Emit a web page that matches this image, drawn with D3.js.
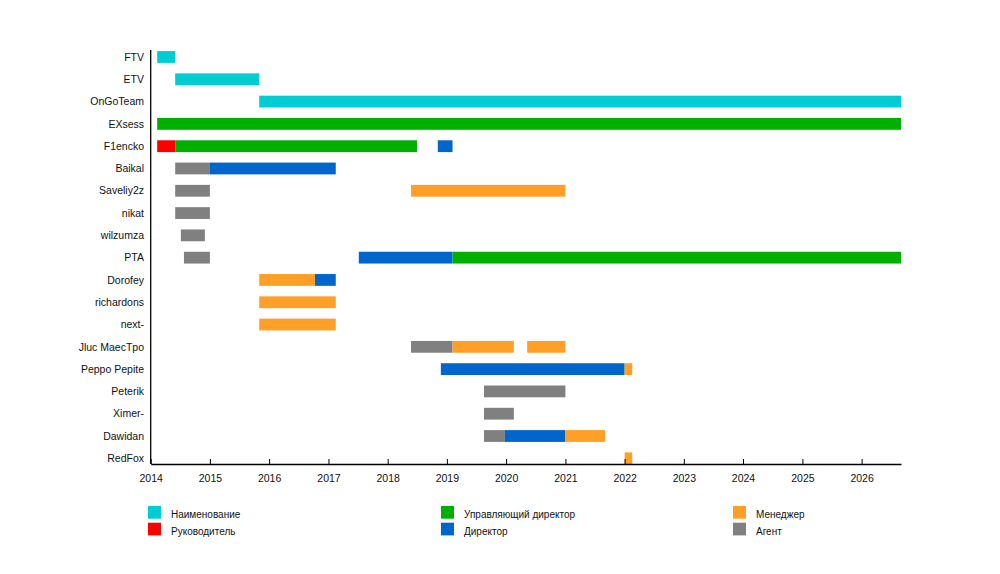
<!DOCTYPE html>
<html>
<head>
<meta charset="utf-8">
<script src="https://cdn.jsdelivr.net/npm/d3@7"></script>
<style>
  body { margin: 0; background: #fff; }
  text { font-family: "Liberation Sans", Arial, sans-serif; fill: #111; }
</style>
</head>
<body>
<svg id="chart" width="1000" height="574"></svg>
<script>
// rows, top to bottom
const members = ["FTV", "ETV", "OnGoTeam", "EXsess", "F1encko", "Baikal", "Saveliy2z", "nikat",
  "wilzumza", "PTA", "Dorofey", "richardons", "next-", "Jluc MaecTpo", "Peppo Pepite",
  "Peterik", "Ximer-", "Dawidan", "RedFox"];

// roles and their colours (legend order: column by column)
const roles = ["Наименование", "Руководитель", "Управляющий директор", "Директор", "Менеджер", "Агент"];
const roleKeys = ["name", "lead", "md", "dir", "mgr", "agent"];
const roleColors = ["#00ccd4", "#ff0000", "#00b000", "#0066cc", "#ff9f28", "#808080"];

// periods: [member, role, from, till]
const periods = [
  ["FTV", "name", "2014-02-10", "2014-06-01"],
  ["ETV", "name", "2014-06-01", "2015-11-01"],
  ["OnGoTeam", "name", "2015-11-01", "2026-09-01"],
  ["EXsess", "md", "2014-02-10", "2026-09-01"],
  ["F1encko", "lead", "2014-02-10", "2014-06-01"],
  ["F1encko", "md", "2014-06-01", "2018-07-01"],
  ["F1encko", "dir", "2018-11-06", "2019-02-05"],
  ["Baikal", "agent", "2014-06-01", "2015-01-01"],
  ["Baikal", "dir", "2015-01-01", "2017-02-15"],
  ["Saveliy2z", "agent", "2014-06-01", "2015-01-01"],
  ["Saveliy2z", "mgr", "2018-05-25", "2021-01-01"],
  ["nikat", "agent", "2014-06-01", "2015-01-01"],
  ["wilzumza", "agent", "2014-07-06", "2014-12-01"],
  ["PTA", "agent", "2014-07-25", "2015-01-01"],
  ["PTA", "dir", "2017-07-07", "2019-02-05"],
  ["PTA", "md", "2019-02-05", "2026-09-01"],
  ["Dorofey", "mgr", "2015-11-01", "2016-10-10"],
  ["Dorofey", "dir", "2016-10-10", "2017-02-15"],
  ["richardons", "mgr", "2015-11-01", "2017-02-15"],
  ["next-", "mgr", "2015-11-01", "2017-02-15"],
  ["Jluc MaecTpo", "agent", "2018-05-25", "2019-02-05"],
  ["Jluc MaecTpo", "mgr", "2019-02-05", "2020-02-18"],
  ["Jluc MaecTpo", "mgr", "2020-05-10", "2021-01-01"],
  ["Peppo Pepite", "dir", "2018-11-25", "2022-01-01"],
  ["Peppo Pepite", "mgr", "2022-01-01", "2022-02-17"],
  ["Peterik", "agent", "2019-08-18", "2021-01-01"],
  ["Ximer-", "agent", "2019-08-18", "2020-02-18"],
  ["Dawidan", "agent", "2019-08-18", "2019-12-25"],
  ["Dawidan", "dir", "2019-12-25", "2021-01-01"],
  ["Dawidan", "mgr", "2021-01-01", "2021-09-03"],
  ["RedFox", "mgr", "2022-01-01", "2022-02-17"]
];

const axisStart = "2014-01-01";
const axisEnd = "2026-09-01";

const parse = d3.timeParse("%Y-%m-%d");
const svg = d3.select("#chart");

const left = 150.7, right = 901, axisY = 464, topY = 50;

const x = d3.scaleTime()
  .domain([parse(axisStart), parse(axisEnd)])
  .range([left, right]);

const y = d3.scalePoint()
  .domain(members)
  .range([57, 458.3]);

const color = d3.scaleOrdinal().domain(roleKeys).range(roleColors);
const barH = 11.8;

// bars
svg.append("g")
  .selectAll("rect")
  .data(periods)
  .join("rect")
  .attr("x", d => x(parse(d[2])))
  .attr("width", d => x(parse(d[3])) - x(parse(d[2])))
  .attr("y", d => y(d[0]) - barH / 2)
  .attr("height", barH)
  .attr("fill", d => color(d[1]));

// row labels
svg.append("g")
  .selectAll("text")
  .data(members)
  .join("text")
  .attr("x", 144)
  .attr("y", d => y(d))
  .attr("dy", "0.35em")
  .attr("text-anchor", "end")
  .style("font-size", "10.5px")
  .text(d => d);

// y axis line
svg.append("line")
  .attr("x1", left).attr("x2", left)
  .attr("y1", topY).attr("y2", axisY)
  .attr("stroke", "#000").attr("stroke-width", 1.3);

// x axis, ticks pointing up
const xAxis = svg.append("g")
  .attr("transform", `translate(0,${axisY})`)
  .call(d3.axisBottom(x)
    .ticks(d3.timeYear.every(1))
    .tickFormat(d3.timeFormat("%Y"))
    .tickSizeInner(-5)
    .tickSizeOuter(0)
    .tickPadding(11));

xAxis.select(".domain").attr("stroke", "#000").attr("stroke-width", 1.3);
xAxis.selectAll(".tick line").attr("stroke", "#000");
xAxis.selectAll(".tick text")
  .style("font-size", "10.5px")
  .style("font-family", "'Liberation Sans', Arial, sans-serif")
  .attr("fill", "#111");

// legend: three columns, two rows
const legendCols = [148, 441, 733];
const legend = svg.append("g")
  .selectAll("g")
  .data(roles)
  .join("g")
  .attr("transform", (d, i) => `translate(${legendCols[Math.floor(i / 2)]},${506 + (i % 2) * 16.7})`);

legend.append("rect")
  .attr("width", 13)
  .attr("height", 12.7)
  .attr("fill", (d, i) => roleColors[i]);

legend.append("text")
  .attr("x", 23)
  .attr("y", 12.3)
  .style("font-size", "10px")
  .text(d => d);
</script>
</body>
</html>
